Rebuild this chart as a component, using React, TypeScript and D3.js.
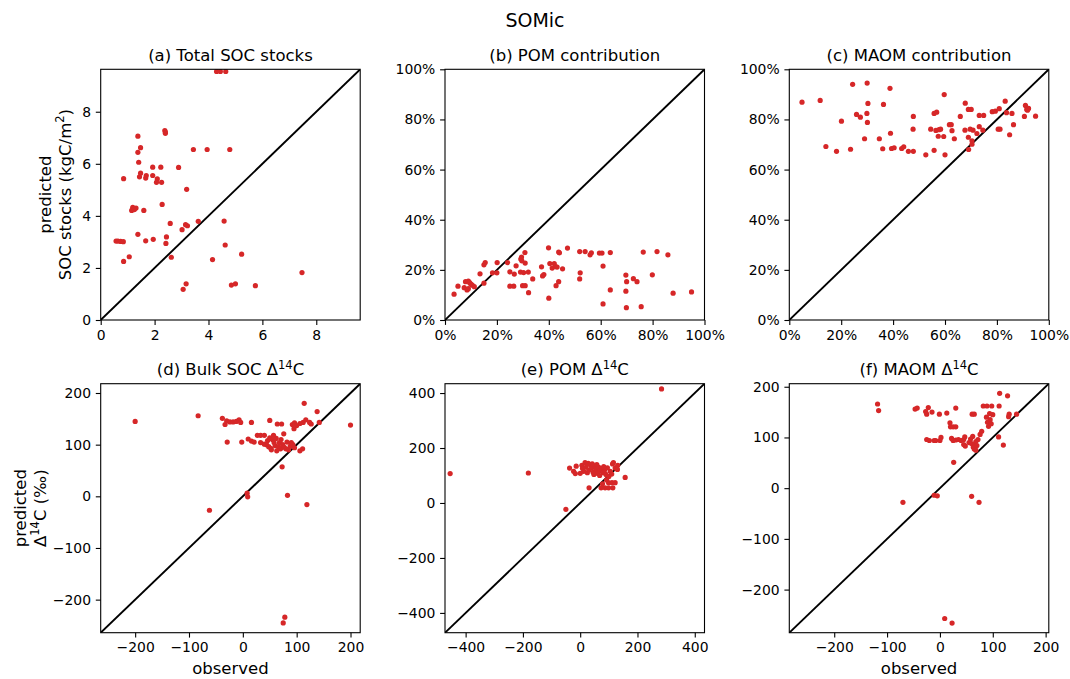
import React, { useEffect, useRef } from "react";
import * as d3 from "d3";

// [observed, predicted] pairs
const totalSoc: [number, number][] = [
  [4.30, 9.55], [4.44, 9.55], [4.64, 9.55], [2.38, 7.28], [2.40, 7.22], [2.40, 7.17],
  [1.38, 7.06], [1.48, 6.62], [1.38, 6.44], [3.44, 6.55], [3.95, 6.55], [4.79, 6.55],
  [1.41, 6.06], [1.93, 5.87], [2.23, 5.87], [2.89, 5.86], [1.48, 5.64], [1.44, 5.50],
  [1.69, 5.55], [1.67, 5.45], [1.93, 5.55], [0.85, 5.43], [2.10, 5.42], [2.07, 5.29],
  [2.26, 5.29], [3.19, 5.02], [2.28, 4.44], [1.19, 4.33], [1.21, 4.28], [1.31, 4.30],
  [1.15, 4.21], [1.25, 4.24], [1.60, 4.21], [2.58, 3.71], [3.62, 3.79], [4.58, 3.80],
  [3.15, 3.66], [3.22, 3.62], [3.02, 3.47], [1.38, 3.29], [2.44, 3.19], [1.95, 3.10],
  [1.67, 3.04], [0.57, 3.03], [0.64, 3.03], [0.74, 3.02], [0.84, 3.01], [2.42, 2.94],
  [4.62, 2.88], [5.23, 2.53], [1.06, 2.43], [0.85, 2.25], [2.62, 2.41], [4.15, 2.32],
  [7.47, 1.82], [3.17, 1.39], [3.06, 1.18], [4.85, 1.34], [5.00, 1.39], [5.74, 1.32],
];

const pomShare: [number, number][] = [
  [0.035, 0.103], [0.05, 0.135], [0.074, 0.129], [0.079, 0.153], [0.085, 0.12], [0.09, 0.155],
  [0.095, 0.149], [0.10, 0.143], [0.105, 0.139], [0.113, 0.133], [0.09, 0.125], [0.135, 0.184],
  [0.15, 0.147], [0.15, 0.22], [0.155, 0.229], [0.183, 0.188], [0.20, 0.188], [0.201, 0.229],
  [0.241, 0.229], [0.25, 0.192], [0.25, 0.135], [0.265, 0.135], [0.267, 0.183], [0.274, 0.216],
  [0.292, 0.243], [0.295, 0.251], [0.296, 0.236], [0.308, 0.269], [0.309, 0.227], [0.291, 0.191],
  [0.303, 0.189], [0.321, 0.191], [0.299, 0.137], [0.309, 0.137], [0.322, 0.109], [0.338, 0.164],
  [0.372, 0.212], [0.376, 0.176], [0.381, 0.181], [0.399, 0.288], [0.40, 0.087], [0.404, 0.225],
  [0.413, 0.207], [0.421, 0.225], [0.426, 0.213], [0.432, 0.211], [0.438, 0.271], [0.441, 0.268],
  [0.438, 0.153], [0.428, 0.137], [0.453, 0.204], [0.472, 0.287], [0.519, 0.273], [0.54, 0.273],
  [0.521, 0.188], [0.519, 0.164], [0.559, 0.26], [0.564, 0.268], [0.595, 0.267], [0.605, 0.267],
  [0.609, 0.215], [0.609, 0.064], [0.637, 0.269], [0.637, 0.12], [0.697, 0.179], [0.70, 0.153],
  [0.697, 0.115], [0.699, 0.049], [0.726, 0.165], [0.74, 0.153], [0.756, 0.053], [0.764, 0.271],
  [0.799, 0.18], [0.817, 0.273], [0.859, 0.26], [0.879, 0.107], [0.95, 0.112],
];

const maomShare: [number, number][] = [
  [0.049, 0.869], [0.119, 0.876], [0.141, 0.692], [0.182, 0.673], [0.201, 0.793], [0.236, 0.681],
  [0.244, 0.94], [0.259, 0.82], [0.274, 0.809], [0.29, 0.723], [0.30, 0.945], [0.303, 0.864],
  [0.299, 0.824], [0.301, 0.788], [0.347, 0.723], [0.36, 0.683], [0.363, 0.86], [0.388, 0.924],
  [0.39, 0.745], [0.394, 0.684], [0.404, 0.687], [0.433, 0.684], [0.441, 0.691], [0.459, 0.673],
  [0.478, 0.673], [0.478, 0.812], [0.477, 0.761], [0.526, 0.659], [0.545, 0.761], [0.558, 0.824],
  [0.568, 0.829], [0.558, 0.677], [0.565, 0.756], [0.577, 0.759], [0.583, 0.761], [0.574, 0.733],
  [0.595, 0.732], [0.597, 0.899], [0.60, 0.659], [0.617, 0.779], [0.624, 0.779], [0.627, 0.755],
  [0.636, 0.723], [0.659, 0.812], [0.678, 0.865], [0.677, 0.757], [0.69, 0.84], [0.701, 0.84],
  [0.69, 0.729], [0.691, 0.68], [0.697, 0.761], [0.708, 0.757], [0.704, 0.715], [0.704, 0.701],
  [0.723, 0.744], [0.732, 0.771], [0.732, 0.816], [0.749, 0.816], [0.746, 0.757], [0.782, 0.831],
  [0.794, 0.833], [0.809, 0.843], [0.805, 0.761], [0.812, 0.761], [0.832, 0.873], [0.837, 0.827],
  [0.849, 0.739], [0.858, 0.824], [0.864, 0.779], [0.906, 0.812], [0.91, 0.856], [0.915, 0.84],
  [0.922, 0.844], [0.918, 0.837], [0.949, 0.813],
];

const bulkC14: [number, number][] = [
  [-200, 145], [-83, 156], [-62, -27], [-38, 151], [-33, 139], [-30, 146], [-24, 144], [-18, 144],
  [-12, 145], [-7, 148], [-4, 143], [-29, 105], [-2, 105], [8, 6], [9, -1], [10, 111], [16, 143],
  [16, 107], [21, 105], [27, 118], [33, 118], [40, 118], [33, 104], [50, 147], [64, 140], [72, 140],
  [76, 121], [73, 57], [83, 2], [78, -234], [75, -245], [92, 139], [96, 142], [100, 137], [95, 131],
  [93, 100], [96, 94], [106, 88], [111, 92], [106, 141], [112, 143], [117, 148], [124, 143],
  [127, 140], [114, 180], [119, -16], [138, 164], [142, 143], [200, 138],
  [44, 100], [48, 96], [52, 93], [46, 108], [55, 110], [58, 104], [60, 98], [62, 112], [50, 113],
  [57, 118], [66, 96], [68, 104], [70, 92], [74, 100], [77, 95], [80, 92], [85, 90], [88, 97],
  [90, 104], [53, 90], [40, 101], [63, 88], [71, 110], [82, 105],
];

const pomC14: [number, number][] = [
  [-454, 107], [-181, 109], [-50, -23], [284, 415], [157, 93], [31, 55], [73, 55], [87, 55],
  [99, 55], [114, 55], [99, 74], [111, 74], [122, 74], [-37, 127], [-23, 115], [-14, 134],
  [-17, 107], [6, 137], [17, 147], [12, 115], [35, 139], [116, 147], [122, 127], [105, 115],
  [131, 137], [130, 122], [113, 142], [0, 108], [8, 126], [20, 130], [25, 110], [30, 120],
  [40, 128], [45, 112], [50, 135], [55, 122], [60, 108], [65, 130], [70, 117], [75, 125],
  [80, 110], [85, 120], [90, 104], [95, 128], [100, 96], [42, 142], [58, 140], [28, 144],
  [48, 104], [68, 100], [82, 132], [110, 105], [92, 84], [78, 70],
];

const maomC14: [number, number][] = [
  [-118, 166], [-116, 153], [-70, -28], [-47, 156], [-43, 158], [-27, 151], [-25, 146], [-22, 159],
  [-15, 150], [-25, 96], [-20, 94], [-11, 94], [-8, 94], [0, 94], [2, 100], [-1, 146], [13, 148],
  [30, 158], [-11, -14], [-5, -15], [9, -257], [23, -266], [19, 129], [20, 121], [25, 121],
  [30, 121], [26, 51], [60, -16], [74, -28], [61, 146], [65, 146], [76, 106], [79, 112], [82, 162],
  [89, 162], [98, 162], [111, 101], [113, 187], [112, 162], [120, 85], [128, 182], [130, 141],
  [131, 146], [145, 146], [22, 98], [25, 94], [30, 95], [35, 96], [40, 94], [45, 96], [47, 101],
  [45, 86], [48, 83], [55, 90], [60, 88], [63, 81], [65, 77], [66, 86], [68, 92], [70, 84],
  [62, 102], [72, 96], [58, 97], [88, 140], [90, 130], [92, 122], [95, 135], [97, 127], [100, 145],
  [94, 147], [65, 80], [68, 75],
];

const stockTicks = [0, 2, 4, 6, 8];
const shareTicks = [0, 0.2, 0.4, 0.6, 0.8, 1.0];
const c14Ticks = [-200, -100, 0, 100, 200];
const pomC14Ticks = [-400, -200, 0, 200, 400];

const panelTitles = [
  ["(a) Total SOC stocks"],
  ["(b) POM contribution"],
  ["(c) MAOM contribution"],
  ["(d) Bulk SOC Δ", "14", "C"],
  ["(e) POM Δ", "14", "C"],
  ["(f) MAOM Δ", "14", "C"],
];

const panels = [
  { data: totalSoc, domain: [0, 9.63], ticks: stockTicks, fmt: (v: number) => String(v) },
  { data: pomShare, domain: [0, 1], ticks: shareTicks, fmt: d3.format(".0%") },
  { data: maomShare, domain: [0, 1], ticks: shareTicks, fmt: d3.format(".0%") },
  { data: bulkC14, domain: [-264, 218], ticks: c14Ticks, fmt: d3.format("d") },
  { data: pomC14, domain: [-472, 434], ticks: pomC14Ticks, fmt: d3.format("d") },
  { data: maomC14, domain: [-285, 206], ticks: c14Ticks, fmt: d3.format("d") },
];

const W = 1070, H = 679;
const colX = [100.7, 445, 789.3];
const rowY = [69.3, 383.7];
const rowH = [250.7, 249];
const plotW = 259.5;
const RED = "#d62728";
const FONT = "DejaVu Sans, sans-serif";

export default function App() {
  const ref = useRef<SVGSVGElement>(null);

  useEffect(() => {
    const svg = d3.select(ref.current);
    svg.selectAll("*").remove();
    svg.style("font-family", FONT);

    svg.append("text")
      .attr("x", W / 2).attr("y", 27)
      .attr("text-anchor", "middle")
      .attr("font-size", 19)
      .text("SOMic");

    panels.forEach((p, i) => {
      const col = i % 3, row = Math.floor(i / 3);
      const x0 = colX[col], y0 = rowY[row], h = rowH[row];
      const x = d3.scaleLinear().domain(p.domain).range([0, plotW]);
      const y = d3.scaleLinear().domain(p.domain).range([h, 0]);

      const g = svg.append("g").attr("transform", `translate(${x0},${y0})`);

      g.append("clipPath").attr("id", "clip" + i)
        .append("rect").attr("width", plotW).attr("height", h);

      const inner = g.append("g").attr("clip-path", `url(#clip${i})`);

      // 1:1 line
      inner.append("line")
        .attr("x1", x(p.domain[0])).attr("y1", y(p.domain[0]))
        .attr("x2", x(p.domain[1])).attr("y2", y(p.domain[1]))
        .attr("stroke", "black").attr("stroke-width", 1.9);

      inner.selectAll("circle")
        .data(p.data)
        .enter()
        .append("circle")
        .attr("cx", d => x(d[0]))
        .attr("cy", d => y(d[1]))
        .attr("r", 2.6)
        .attr("fill", RED);

      const minusFmt = (v: number) => p.fmt(v).replace("-", "\u2212");

      const xAxis = d3.axisBottom(x).tickValues(p.ticks).tickSize(4.9).tickPadding(4.8)
        .tickFormat(d => minusFmt(d as number));
      const yAxis = d3.axisLeft(y).tickValues(p.ticks).tickSize(4.9).tickPadding(4.8)
        .tickFormat(d => minusFmt(d as number));

      const xa = g.append("g").attr("transform", `translate(0,${h})`).call(xAxis);
      const ya = g.append("g").call(yAxis);
      [xa, ya].forEach(a => {
        a.select(".domain").remove();
        a.selectAll("line").attr("stroke", "black").attr("stroke-width", 1.1);
        a.selectAll("text").attr("font-size", 13.9).attr("font-family", FONT).attr("fill", "black");
      });

      g.append("rect")
        .attr("width", plotW).attr("height", h)
        .attr("fill", "none").attr("stroke", "black").attr("stroke-width", 1.1);

      // title
      const t = panelTitles[i];
      const tt = g.append("text")
        .attr("x", plotW / 2).attr("y", -8.5)
        .attr("text-anchor", "middle")
        .attr("font-size", 16.5);
      tt.append("tspan").text(t[0]);
      if (t.length > 1) {
        tt.append("tspan").attr("dy", -6.5).attr("font-size", 11.5).text(t[1]);
        tt.append("tspan").attr("dy", 6.5).text(t[2]);
      }
    });

    // y labels
    const yl1 = svg.append("text")
      .attr("transform", `translate(51,${rowY[0] + rowH[0] / 2}) rotate(-90)`)
      .attr("text-anchor", "middle").attr("font-size", 16.5);
    yl1.append("tspan").attr("x", 0).attr("dy", 0).text("predicted");
    const l2 = yl1.append("tspan").attr("x", 0).attr("dy", 19.5);
    l2.append("tspan").text("SOC stocks (kgC/m");
    l2.append("tspan").attr("dy", -6.5).attr("font-size", 11.5).text("2");
    l2.append("tspan").attr("dy", 6.5).text(")");

    const yl2 = svg.append("text")
      .attr("transform", `translate(26,${rowY[1] + rowH[1] / 2}) rotate(-90)`)
      .attr("text-anchor", "middle").attr("font-size", 16.5);
    yl2.append("tspan").attr("x", 0).attr("dy", 0).text("predicted");
    const m2 = yl2.append("tspan").attr("x", 0).attr("dy", 19.5);
    m2.append("tspan").text("Δ");
    m2.append("tspan").attr("dy", -6.5).attr("font-size", 11.5).text("14");
    m2.append("tspan").attr("dy", 6.5).text("C (‰)");

    // x labels
    [0, 2].forEach(c => {
      svg.append("text")
        .attr("x", colX[c] + plotW / 2).attr("y", 674)
        .attr("text-anchor", "middle").attr("font-size", 16.5)
        .text("observed");
    });
  }, []);

  return (
    <svg
      ref={ref}
      width={W}
      height={H}
      style={{ position: "absolute", left: 0, top: 0, background: "white" }}
    />
  );
}
